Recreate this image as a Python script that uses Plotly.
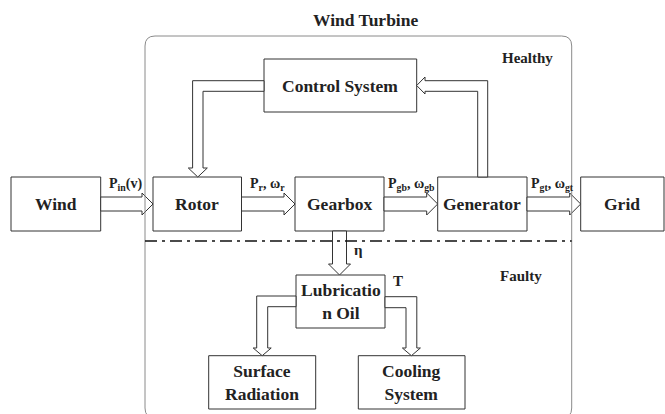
import plotly.graph_objects as go

# ---- content (text) ----
title_text = "Wind Turbine"
node_names = ["Wind", "Rotor", "Gearbox", "Generator", "Grid",
              "Control System", "Lubricatio<br>n Oil",
              "Surface<br>Radiation", "Cooling<br>System"]
flow_labels = ["P<sub>in</sub>(v)", "P<sub>r</sub>, ω<sub>r</sub>",
               "P<sub>gb</sub>, ω<sub>gb</sub>", "P<sub>gt</sub>, ω<sub>gt</sub>"]
region_labels = ["Healthy", "Faulty"]
extra_labels = ["η", "T"]

# ---- geometry (pixel layout of the diagram) ----
W, H = 665, 414
boxes = [  # x0, x1, y0, y1
    (11, 100.7, 177, 231),
    (153, 241.5, 177, 231),
    (295, 384, 177, 231),
    (437.7, 527, 177, 231),
    (580.7, 664, 177, 231),
    (264, 416.7, 59, 112),
    (296, 385, 275, 328),
    (208.7, 315.7, 355.7, 409),
    (358.3, 465, 355.7, 409),
]
flow_label_pos = [(125, 184), (267, 184), (411, 184), (552, 184)]
region_label_pos = [(527, 58), (521, 276)]
extra_label_pos = [(358, 250), (398, 281)]

FONT = "Liberation Serif"
LINE = "#333333"

shapes = []


def poly(pts):
    return "M " + " L ".join(f"{x},{y}" for x, y in pts) + " Z"


def right_arrow(x0, x1, c, sw=7, hw=11, hl=11):
    return poly([(x0, c - sw), (x1 - hl, c - sw), (x1 - hl, c - hw), (x1, c),
                 (x1 - hl, c + hw), (x1 - hl, c + sw), (x0, c + sw)])


def down_arrow(y0, y1, c, sw=7, hw=11, hl=11):
    return poly([(c - sw, y0), (c - sw, y1 - hl), (c - hw, y1 - hl), (c, y1),
                 (c + hw, y1 - hl), (c + sw, y1 - hl), (c + sw, y0)])


def add_path(p, color=LINE, width=1):
    shapes.append(dict(type="path", path=p, xref="x", yref="y",
                       line=dict(color=color, width=width), fillcolor="white"))


# boxes
for (x0, x1, y0, y1) in boxes:
    shapes.append(dict(type="rect", x0=x0, x1=x1, y0=y0, y1=y1, xref="x", yref="y",
                       line=dict(color=LINE, width=1), fillcolor="white"))

# main horizontal flow arrows
cy = 204
for i in range(4):
    add_path(right_arrow(boxes[i][1], boxes[i + 1][0], cy))

# gearbox -> lubrication
gcx = (boxes[2][0] + boxes[2][1]) / 2
add_path(down_arrow(boxes[2][3], boxes[6][2], gcx))

# feedback: generator -> control system (elbow arrow pointing left)
genx = 482.7
add_path(poly([(genx - 5, 177), (genx - 5, 91.3), (425, 91.3), (425, 94),
               (416.7, 85.5), (425, 77), (425, 80.7), (genx + 5, 80.7),
               (genx + 5, 177)]))
# control system -> rotor (elbow arrow pointing down)
rcx = 197.8
add_path(poly([(264, 80.7), (rcx - 5.2, 80.7), (rcx - 5.2, 168), (rcx - 9.5, 168),
               (rcx, 177), (rcx + 9.5, 168), (rcx + 5.2, 168), (rcx + 5.2, 91.3),
               (264, 91.3)]))
# lubrication -> surface radiation
scx = 262.2
add_path(poly([(296, 296), (scx - 5.5, 296), (scx - 5.5, 348), (scx - 9, 348),
               (scx, 355.7), (scx + 9, 348), (scx + 5.5, 348), (scx + 5.5, 306.7),
               (296, 306.7)]))
# lubrication -> cooling system
ccx = 411.4
add_path(poly([(385, 296.7), (ccx + 5.4, 296.7), (ccx + 5.4, 348), (ccx + 9, 348),
               (ccx, 355.7), (ccx - 9, 348), (ccx - 5.4, 348), (ccx - 5.4, 307.7),
               (385, 307.7)]))

# outer rounded rectangle (wind turbine boundary)
L_, R_, T_, B_, r = 145, 571.7, 36, 418, 10
shapes.append(dict(type="path", xref="x", yref="y",
                   path=(f"M {L_+r},{T_} L {R_-r},{T_} Q {R_},{T_} {R_},{T_+r} "
                         f"L {R_},{B_-r} Q {R_},{B_} {R_-r},{B_} L {L_+r},{B_} "
                         f"Q {L_},{B_} {L_},{B_-r} L {L_},{T_+r} Q {L_},{T_} {L_+r},{T_} Z"),
                   line=dict(color="#8a8a8a", width=1)))

# healthy / faulty separator
shapes.append(dict(type="line", x0=145, x1=571.7, y0=241, y1=241, xref="x", yref="y",
                   line=dict(color="#111111", width=1.5, dash="12px,5px,3px,5px")))

annotations = []


def txt(x, y, s, size, xanchor="center"):
    annotations.append(dict(x=x, y=y, xref="x", yref="y", text=s,
                            showarrow=False, xanchor=xanchor, yanchor="middle",
                            font=dict(family=FONT, size=size, color="#222222",
                                      weight="bold")))


txt(365.5, 20, title_text, 17.5)
for (x0, x1, y0, y1), name in zip(boxes, node_names):
    txt((x0 + x1) / 2 if x1 < 660 else (x0 + 665) / 2 - 1, (y0 + y1) / 2, name, 17.5)
for (x, y), s in zip(flow_label_pos, flow_labels):
    txt(x, y, s, 14)
for (x, y), s in zip(region_label_pos, region_labels):
    txt(x, y, s, 15)
for (x, y), s in zip(extra_label_pos, extra_labels):
    txt(x, y, s, 15)

fig = go.Figure()
fig.add_trace(go.Scatter(x=[0, W], y=[0, H], mode="markers",
                         marker=dict(opacity=0), hoverinfo="skip", showlegend=False))
fig.update_layout(width=W, height=H, margin=dict(l=0, r=0, t=0, b=0),
                  paper_bgcolor="white", plot_bgcolor="white",
                  font=dict(family=FONT),
                  xaxis=dict(range=[0, W], visible=False, fixedrange=True),
                  yaxis=dict(range=[H, 0], visible=False, fixedrange=True),
                  shapes=shapes, annotations=annotations, showlegend=False)
fig.write_html("out.html", config={"displayModeBar": False},
               post_script="document.body.style.margin='0';document.body.style.overflow='hidden';")
